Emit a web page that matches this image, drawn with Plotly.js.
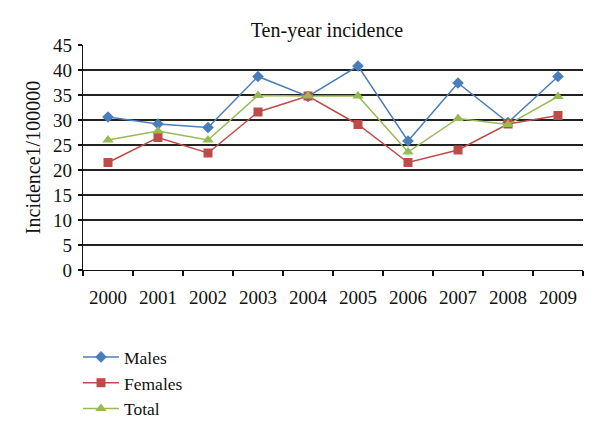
<!DOCTYPE html>
<html><head><meta charset="utf-8">
<script src="https://cdn.plot.ly/plotly-3.0.1.min.js"></script>
<style>body{margin:0;padding:0;background:#fff}#chart{width:600px;height:439px}</style>
</head><body><div id="chart"></div>
<script>
const years = ["2000","2001","2002","2003","2004","2005","2006","2007","2008","2009"];
const males = [30.6, 29.2, 28.5, 38.7, 34.7, 40.8, 25.8, 37.4, 29.5, 38.7];
const females = [21.5, 26.5, 23.4, 31.6, 34.8, 29.1, 21.5, 24.0, 29.2, 30.9];
const total = [26.0, 27.8, 26.0, 34.9, 34.8, 34.8, 23.6, 30.3, 29.1, 34.7];
const yTicks = [0,5,10,15,20,25,30,35,40,45];

const font = "Liberation Serif, Times New Roman, serif";
const traces = [
  {x: years, y: males, name: "Males", type: "scatter", mode: "lines+markers",
   line: {color: "#4A7EBB", width: 1.5}, marker: {symbol: "diamond", size: 9, color: "#4A7EBB"}},
  {x: years, y: females, name: "Females", type: "scatter", mode: "lines+markers",
   line: {color: "#BE4B48", width: 1.5}, marker: {symbol: "square", size: 9, color: "#BE4B48"}},
  {x: years, y: total, name: "Total", type: "scatter", mode: "lines+markers",
   line: {color: "#98B954", width: 1.5}, marker: {symbol: "triangle-up", size: 10, color: "#98B954"}}
];
const layout = {
  width: 600, height: 439,
  margin: {l: 83, r: 17, t: 45, b: 169, autoexpand: false},
  paper_bgcolor: "#fff", plot_bgcolor: "#fff",
  font: {family: font, size: 19, color: "#000"},
  title: {text: "Ten-year incidence", x: 0.488, xref: "paper", xanchor: "center",
          y: 0.932, yref: "container", yanchor: "middle",
          font: {family: font, size: 20, color: "#111"}},
  xaxis: {type: "category", tickson: "boundaries", ticks: "outside", ticklen: 5, tickcolor: "#111",
          tickwidth: 1.2, showline: true, linecolor: "#111", linewidth: 1.3, showgrid: false, zeroline: false,
          tickfont: {family: font, size: 19, color: "#111"}, ticklabelstandoff: 10, range: [-0.5, 9.5]},
  yaxis: {range: [0, 45], tickvals: yTicks, ticks: "outside", ticklen: 4, tickcolor: "#111",
          tickwidth: 1.2, showline: true, linecolor: "#111", linewidth: 1.3, showgrid: true, gridcolor: "#222",
          gridwidth: 1.1, zeroline: false, tickfont: {family: font, size: 19, color: "#111"},
          ticklabelstandoff: 2,
          title: {text: "Incidence1/100000", font: {family: font, size: 20, color: "#111"}, standoff: 7}},
  showlegend: true,
  legend: {x: -0.01, xanchor: "left", y: -0.307, yanchor: "top", font: {family: font, size: 17.5, color: "#111"},
           bgcolor: "rgba(0,0,0,0)", tracegroupgap: 0, itemwidth: 36}
};
Plotly.newPlot("chart", traces, layout, {displayModeBar: false, staticPlot: true});
</script></body></html>
